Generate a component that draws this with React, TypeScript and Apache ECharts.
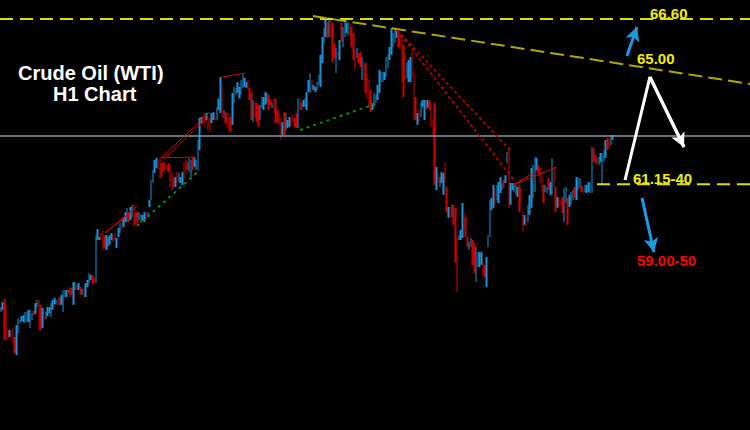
import React, { useEffect, useRef } from "react";
import * as echarts from "echarts";

// Hourly candles as [open, close] pairs (USD / bbl)
const rallyStart: number[][] = [
  [56.93,57.10],[57.00,57.26],[57.36,56.01],[57.17,56.01],[56.41,56.01],[56.11,56.34],[56.32,56.11],[56.41,55.91],
  [56.11,55.58],[55.51,56.50],[56.24,56.74],[56.57,56.67],[56.63,56.80],[56.60,56.83],[56.57,56.93],[56.60,56.93],[56.60,57.00],
  [56.41,57.00],[56.67,56.90],[56.97,56.83],[56.87,57.23],[57.10,57.33],[57.33,56.34],[57.17,56.34],[56.41,57.07],
  [56.83,56.67],[56.70,56.93],[56.80,57.10],[56.90,57.10],[56.77,57.23],[57.00,57.33],[57.20,57.40],[57.17,57.33],[57.33,57.17],
  [57.43,57.17],[57.17,57.50],[56.93,57.66],[57.43,57.66],[57.43,57.66],[57.66,57.56],[57.76,57.40],[57.73,57.50],
  [57.17,57.92],[57.66,57.92],[57.83,57.66],[57.66,57.89],[57.76,57.50],[57.50,57.70],[57.73,57.40],[57.43,57.89],[57.76,57.99],
  [57.89,58.22],[57.99,58.16],[58.16,57.89],[58.09,57.83],
];
const rallyMiddle: number[][] = [
  [57.89,59.47],[59.31,59.67],[59.31,59.41],[59.54,59.31],[59.64,58.98],[59.47,59.05],[58.98,59.47],[59.08,59.41],
  [59.15,59.47],[59.31,59.54],[59.47,59.24],[59.54,59.31],[59.05,59.38],[59.41,59.71],[59.54,59.87],[59.97,59.64],
  [59.74,60.07],[59.90,60.23],[59.90,60.37],[60.23,59.90],[59.97,60.40],[60.07,60.47],[60.47,59.74],[60.23,59.81],
  [60.23,59.87],[59.97,60.20],[59.87,60.14],[59.97,60.14],[59.90,60.23],[60.20,59.97],[60.07,60.23],[60.40,60.63],
  [60.63,61.29],[61.19,61.62],[61.52,61.95],[61.69,62.02],[61.95,61.62],[62.02,61.36],[61.85,61.39],[61.88,61.55],
  [61.85,61.62],[61.79,61.62],[61.85,61.55],[61.79,61.06],[61.55,60.96],[61.36,61.03],[61.06,61.39],[61.55,61.19],
  [61.22,61.52],[61.19,61.39],[61.13,61.55],[61.88,61.29],[61.95,61.52],[61.88,61.62],[61.55,62.02],[61.39,61.95],
  [62.05,61.62],[61.72,62.02],[61.62,61.95],[61.62,62.61],
];
const firstTopZone: number[][] = [
  [62.28,63.34],[63.17,63.37],[63.44,63.11],[63.50,63.04],[63.27,63.50],[63.37,62.94],[63.34,62.87],[63.17,63.50],
  [63.27,63.53],[63.44,63.27],[63.27,63.70],[63.60,63.98],[63.50,64.69],[64.43,63.37],[63.34,63.60],[63.53,63.17],
  [63.50,63.04],[63.50,62.94],[63.37,62.87],[63.11,64.16],[63.83,64.36],[64.10,64.33],[64.16,64.52],[63.98,64.36],
  [64.10,64.59],[64.33,64.82],[64.36,64.66],[64.33,64.52],[64.59,64.26],[64.33,63.93],[64.19,63.27],[63.20,63.93],
  [63.86,63.34],[63.83,63.20],[63.77,63.04],[63.27,63.77],[63.67,64.03],[63.60,64.03],[63.77,64.19],[63.83,64.16],
  [64.10,63.60],[63.93,63.77],[63.67,63.83],[63.98,63.50],[63.98,63.17],[63.60,63.17],[63.50,63.11],[63.34,62.61],
  [62.77,63.20],[63.53,62.77],[62.94,63.50],[63.01,63.27],[63.04,63.37],[63.37,63.11],[63.44,63.20],[63.34,63.04],
  [63.50,63.01],
];
const doubleTop: number[][] = [
  [63.01,63.98],[63.98,63.60],[63.83,63.60],[63.70,63.93],[63.70,63.98],[63.60,64.19],[64.19,64.59],[64.16,64.82],
  [64.59,64.19],[64.26,64.43],[64.19,64.36],[64.26,64.52],[64.43,64.76],[64.36,65.42],[65.15,66.01],[65.81,66.31],
  [66.01,66.64],[66.50,65.98],[66.01,66.67],[66.64,65.98],[66.47,65.18],[65.81,65.32],[64.82,65.65],[65.51,65.32],
  [65.25,65.91],[66.47,65.84],[65.68,66.34],[66.01,66.50],[66.14,66.47],[66.08,66.50],[66.47,66.01],[66.34,65.68],
  [66.14,65.25],[65.58,64.92],[65.32,65.65],[65.48,65.15],[65.51,65.02],[64.59,65.35],[65.15,64.59],[65.15,64.16],
  [64.82,63.98],[64.59,63.70],[64.26,63.53],[63.60,63.83],[63.70,64.16],[63.83,64.10],[63.93,64.43],[64.16,64.92],
  [64.52,64.85],[64.52,64.85],[64.59,64.85],[64.69,65.35],[64.99,65.42],[65.25,65.68],[65.42,66.31],[65.68,66.14],
  [65.81,66.31],[65.98,66.31],[66.17,65.68],[66.14,65.58],[66.01,64.49],[65.75,64.03],[65.48,64.59],[64.66,65.15],
  [64.52,65.25],[64.52,65.35],[65.51,64.69],[64.85,63.27],[64.03,63.27],[63.11,63.50],[63.60,63.20],
];
const selloff: number[][] = [
  [63.37,63.86],[63.70,63.93],[63.27,63.93],[63.93,63.60],[63.67,63.93],[63.93,63.60],[63.83,63.04],[63.27,62.71],
  [63.83,61.13],[60.96,61.72],[61.52,61.19],[61.06,61.39],[61.19,61.55],[60.80,61.52],[61.85,61.19],[61.06,60.23],
  [60.04,60.40],[60.40,60.07],[60.07,60.47],[60.47,59.81],[60.37,58.55],[59.38,57.59],[59.31,59.47],[59.31,59.64],
  [59.38,60.53],[60.23,59.64],[60.07,59.41],[59.41,59.08],[58.98,59.24],[59.08,59.38],[59.31,58.49],[59.21,58.22],
  [57.92,59.08],[58.42,58.91],[58.42,58.91],[58.49,58.91],[58.65,58.16],[58.49,58.09],[57.76,58.75],[59.08,59.47],
  [59.41,60.63],[60.30,60.70],[60.37,61.13],[61.03,60.47],[60.63,61.13],[60.53,61.22],[60.86,61.39],[60.96,61.19],
  [61.29,61.03],[61.19,61.45],
];
const recovery: number[][] = [
  [61.85,62.21],[62.38,60.37],[60.47,61.19],[60.96,61.19],[60.89,61.13],[60.80,61.13],[60.73,61.06],[61.13,60.23],
  [60.96,60.56],[60.23,59.57],[59.81,60.14],[60.07,59.74],[59.90,60.47],[60.14,60.80],[60.37,61.69],[60.70,61.79],
  [60.89,62.05],[61.62,62.02],[61.79,61.52],[61.62,61.19],[61.45,60.89],[61.13,60.53],[60.89,61.13],[60.86,61.06],
  [61.36,60.96],[60.80,61.22],[60.80,62.02],[61.72,61.03],[61.06,60.23],[60.37,60.73],[60.70,60.40],[60.63,60.47],
  [60.73,60.20],[59.90,61.03],[60.53,61.06],[60.70,59.81],[60.40,60.80],[60.47,60.89],[60.63,60.96],[61.06,60.70],
  [60.63,61.39],[60.96,61.36],[61.03,61.36],[61.13,60.89],[61.06,60.86],[60.89,61.13],[60.86,61.13],[60.89,61.22],
  [60.86,61.22],[60.86,62.38],[62.35,61.88],[62.12,61.85],[62.05,61.79],[61.79,62.05],[61.88,62.18],[61.13,62.18],
  [61.88,62.28],[62.02,62.61],[62.68,62.28],[62.68,62.35],[62.44,62.77],[62.61,62.77],
];

// Price levels and axis range
const PRICE_MIN = 53.04;
const PRICE_MAX = 67.23;
const LEVEL_HIGH = 66.6;
const LEVEL_SUPPORT = 61.15;
const LEVEL_CURRENT = 62.74;
const TOTAL_SLOTS = 434; // hours on the axis, incl. the empty chart-shift area

// Drawn studies: [hour index, price] end points
const resistanceTrend = [[180.6, 66.7], [433.5, 64.46]];
const supportStart = 344.96;
const redFanA = [[229.2, 66.24], [295.8, 62.21]];
const redFanB = [[229.2, 66.24], [296.9, 61.29]];
const greenTrend1 = [[78.8, 59.77], [115.2, 61.62]];
const greenTrend2 = [[173.1, 62.94], [218.2, 63.83]];
const redPatternLines = [
  [[60.3, 59.54], [78.8, 60.43]],
  [[60.3, 59.54], [76.5, 60.27]],
  [[92.7, 62.02], [121.0, 63.53]],
  [[95.0, 62.02], [119.3, 63.34]],
  [[92.7, 62.02], [112.9, 62.05]],
  [[128.0, 64.69], [141.3, 64.82]],
  [[296.4, 61.13], [321.8, 61.72]],
  [[296.4, 61.13], [313.1, 61.69]],
];
const whitePathUp = [[361.2, 61.29], [375.6, 64.69]];
const whitePathDown = [[375.6, 64.69], [395.3, 62.38]];
const blueUp = [[362.3, 65.38], [368.1, 66.34]];
const blueDown = [[371.0, 60.7], [377.9, 58.91]];

const titleLines = ["Crude Oil (WTI)", "H1 Chart"];
const levelLabels = {
  high: "66.60",
  trend: "65.00",
  support: "61.15-40",
  target: "59.00-50",
};

export default function App() {
  const ref = useRef<HTMLDivElement>(null);

  useEffect(() => {
    if (!ref.current) return;
    const chart = echarts.init(ref.current, null, { renderer: "svg" });

    const allCandles = [...rallyStart, ...rallyMiddle, ...firstTopZone, ...doubleTop, ...selloff, ...recovery];
    const ohlc = allCandles.map(([o, c]) => [o, c, Math.min(o, c), Math.max(o, c)]);
    const categories = Array.from({ length: TOTAL_SLOTS }, (_, i) => `H${i}`);

    const line = (data: number[][], color: string, width: number, type: any, z = 5) => ({
      type: "line",
      xAxisIndex: 1,
      yAxisIndex: 0,
      data,
      symbol: "none",
      silent: true,
      z,
      lineStyle: { color, width, type, cap: "butt" },
    });

    const font = (size: number) => `bold ${size}px "Liberation Sans", Arial, sans-serif`;
    const txt = (x: number, y: number, text: string, fill: string, size: number, lh: number) => ({
      type: "text",
      x,
      y,
      z: 100,
      style: { text, fill, font: font(size), lineHeight: lh, verticalAlign: "middle", align: "left" },
    });

    const arrowSeg = (pts: number[][], color: string, width: number) => [
      { coord: pts[0], lineStyle: { color, width, type: "solid" } },
      { coord: pts[1] },
    ];

    chart.setOption({
      animation: false,
      backgroundColor: "#000000",
      grid: { left: 0, right: 0, top: 0, bottom: 0, containLabel: false },
      xAxis: [
        { type: "category", data: categories, show: false, boundaryGap: true },
        { type: "value", min: -0.5, max: TOTAL_SLOTS - 0.5, show: false },
      ],
      yAxis: { type: "value", min: PRICE_MIN, max: PRICE_MAX, show: false, splitLine: { show: false } },
      series: [
        {
          type: "candlestick",
          xAxisIndex: 0,
          yAxisIndex: 0,
          data: ohlc,
          barWidth: 2,
          silent: true,
          z: 3,
          itemStyle: {
            color: "#1b93d6",
            color0: "#d40000",
            borderColor: "#1b93d6",
            borderColor0: "#d40000",
            borderWidth: 0,
          },
        },
        line([[-0.5, LEVEL_CURRENT], [TOTAL_SLOTS - 0.5, LEVEL_CURRENT]], "#8a98a6", 1.5, "solid", 4),
        line([[-0.5, LEVEL_HIGH], [TOTAL_SLOTS - 0.5, LEVEL_HIGH]], "#dede00", 2, [13, 7]),
        line(resistanceTrend, "#aaaa00", 2, [14, 6]),
        line([[supportStart, LEVEL_SUPPORT], [TOTAL_SLOTS - 0.5, LEVEL_SUPPORT]], "#dede00", 2, [13, 7]),
        line(redFanA, "#c00000", 1.8, [3, 3]),
        line(redFanB, "#c00000", 1.8, [3, 3]),
        line(greenTrend1, "#0a8a0a", 2, [3, 4]),
        line(greenTrend2, "#0a8a0a", 2, [3, 4]),
        ...redPatternLines.map((seg) => line(seg, "#e00000", 1, "solid", 6)),
        line(whitePathUp, "#ffffff", 3, "solid", 8),
        {
          ...line(whitePathDown, "#ffffff", 3, "solid", 8),
          markLine: {
            silent: true,
            symbol: ["none", "arrow"],
            symbolSize: [11, 14],
            label: { show: false },
            emphasis: { disabled: true },
            data: [
              arrowSeg(whitePathDown, "#ffffff", 3),
              arrowSeg(blueUp, "#1a9be0", 3),
              arrowSeg(blueDown, "#1a9be0", 3),
            ],
          },
        },
      ],
      graphic: [
        txt(18, 73, titleLines[0], "#ffffff", 20, 20),
        txt(53, 94, titleLines[1], "#ffffff", 20, 20),
        txt(650, 13, levelLabels.high, "#f0f000", 15, 14),
        txt(637, 58, levelLabels.trend, "#f0f000", 15, 14),
        txt(633, 178, levelLabels.support, "#f0f000", 15, 14),
        txt(637, 260, levelLabels.target, "#ff0000", 15, 14),
      ],
    });

    return () => chart.dispose();
  }, []);

  return (
    <div
      ref={ref}
      style={{ position: "fixed", left: 0, top: 0, width: 750, height: 430, background: "#000" }}
    />
  );
}
